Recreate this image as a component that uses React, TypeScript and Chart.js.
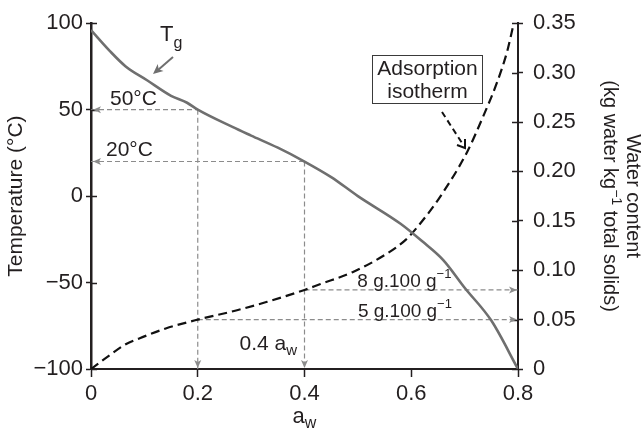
import React, { useEffect, useRef } from 'react';
import { Chart, registerables } from 'chart.js';

Chart.register(...registerables);

// Glass transition temperature (Tg) versus water activity
const tgAw = [0, 0.035, 0.065, 0.105, 0.15, 0.18, 0.2, 0.265, 0.3, 0.35, 0.4, 0.45, 0.5, 0.58, 0.62, 0.66, 0.7, 0.75, 0.8];
const tgTemp = [96, 84, 75, 67, 58, 54, 50, 40, 35, 28, 20, 11, 0, -16, -26, -37, -53, -72, -100];

// Adsorption isotherm: water content (kg water / kg total solids) versus water activity
const isoAw = [0, 0.035, 0.065, 0.1, 0.14, 0.2, 0.27, 0.33, 0.4, 0.43, 0.49, 0.555, 0.59, 0.615, 0.655, 0.705, 0.735, 0.76, 0.78, 0.79];
const isoWater = [0, 0.014, 0.025, 0.033, 0.041, 0.05, 0.059, 0.068, 0.08, 0.086, 0.098, 0.117, 0.131, 0.146, 0.175, 0.22, 0.256, 0.289, 0.322, 0.345];

// Read-off guides: water activity, matching Tg and matching water content
const refAw = [0.2, 0.4];
const refTemp = [50, 20];
const refWater = [0.05, 0.08];

// Axis ticks
const awTicks = [0, 0.2, 0.4, 0.6, 0.8];
const tempTicks = [-100, -50, 0, 50, 100];
const waterTicks = [0, 0.05, 0.1, 0.15, 0.2, 0.25, 0.3, 0.35];

const FONT = '"Liberation Sans", Arial, Helvetica, sans-serif';
const INK = '#231f20';
const TG_GREY = '#6f6f6f';
const GUIDE_GREY = '#8c8c8c';

type Run = { t: string; size: number; dy?: number };

function runsWidth(ctx: CanvasRenderingContext2D, runs: Run[]) {
  let w = 0;
  for (const r of runs) {
    ctx.font = `${r.size}px ${FONT}`;
    w += ctx.measureText(r.t).width;
  }
  return w;
}

function drawRuns(ctx: CanvasRenderingContext2D, runs: Run[], x: number, y: number, align: 'left' | 'center' | 'right' = 'left') {
  const w = runsWidth(ctx, runs);
  let cx = align === 'left' ? x : align === 'center' ? x - w / 2 : x - w;
  ctx.textAlign = 'left';
  ctx.textBaseline = 'alphabetic';
  for (const r of runs) {
    ctx.font = `${r.size}px ${FONT}`;
    ctx.fillText(r.t, cx, y + (r.dy || 0));
    cx += ctx.measureText(r.t).width;
  }
}

function arrowHead(ctx: CanvasRenderingContext2D, x: number, y: number, angle: number, len: number, half: number, color: string) {
  ctx.save();
  ctx.translate(x, y);
  ctx.rotate(angle);
  ctx.fillStyle = color;
  ctx.beginPath();
  ctx.moveTo(0, 0);
  ctx.lineTo(-len, -half);
  ctx.lineTo(-len * 0.75, 0);
  ctx.lineTo(-len, half);
  ctx.closePath();
  ctx.fill();
  ctx.restore();
}

const annotations = {
  id: 'annotations',
  afterDatasetsDraw(chart: any) {
    const ctx: CanvasRenderingContext2D = chart.ctx;
    const xs = chart.scales.x;
    const yT = chart.scales.y;
    const yW = chart.scales.y2;
    const a = chart.chartArea;
    ctx.save();

    // inner halves of the crossing tick marks on both vertical axes
    ctx.strokeStyle = INK;
    ctx.lineWidth = 1.5;
    ctx.beginPath();
    for (const v of tempTicks) {
      const py = Math.round(yT.getPixelForValue(v)) + 0.5;
      ctx.moveTo(a.left, py);
      ctx.lineTo(a.left + 6, py);
    }
    for (const v of waterTicks) {
      const py = Math.round(yW.getPixelForValue(v)) + 0.5;
      ctx.moveTo(a.right, py);
      ctx.lineTo(a.right - 6, py);
    }
    ctx.stroke();

    // arrowheads on the read-off guides
    refAw.forEach((aw, i) => {
      const px = xs.getPixelForValue(aw);
      arrowHead(ctx, a.left + 2, yT.getPixelForValue(refTemp[i]), Math.PI, 8, 3.5, GUIDE_GREY);
      arrowHead(ctx, px, a.bottom - 1, Math.PI / 2, 8, 3.5, GUIDE_GREY);
      arrowHead(ctx, a.right - 1, yW.getPixelForValue(refWater[i]), 0, 8, 3.5, GUIDE_GREY);
    });

    ctx.fillStyle = INK;
    // guide labels
    drawRuns(ctx, [{ t: '50°C', size: 21 }], a.left + 19, yT.getPixelForValue(refTemp[0]) - 5);
    drawRuns(ctx, [{ t: '20°C', size: 21 }], a.left + 15, yT.getPixelForValue(refTemp[1]) - 6);
    drawRuns(ctx, [{ t: '0.4 a', size: 21 }, { t: 'w', size: 15, dy: 5 }], xs.getPixelForValue(refAw[1]) - 65, a.bottom - 19);
    drawRuns(ctx, [{ t: '8 g.100 g', size: 19 }, { t: '\u22121', size: 13, dy: -9 }], xs.getPixelForValue(0.499), yW.getPixelForValue(refWater[1]) - 3);
    drawRuns(ctx, [{ t: '5 g.100 g', size: 19 }, { t: '\u22121', size: 13, dy: -9 }], xs.getPixelForValue(0.5), yW.getPixelForValue(refWater[0]) - 3);

    // Tg label with pointer
    drawRuns(ctx, [{ t: 'T', size: 22 }, { t: 'g', size: 16, dy: 7 }], 160, 41);
    ctx.strokeStyle = TG_GREY;
    ctx.lineWidth = 2;
    ctx.setLineDash([]);
    ctx.beginPath();
    ctx.moveTo(173, 57);
    ctx.lineTo(158, 70);
    ctx.stroke();
    arrowHead(ctx, 153, 74, Math.atan2(17, -20), 10, 4.5, TG_GREY);

    // isotherm callout
    ctx.strokeStyle = '#3a3a3a';
    ctx.lineWidth = 1;
    ctx.strokeRect(372.5, 55.5, 110, 48);
    ctx.fillStyle = INK;
    drawRuns(ctx, [{ t: 'Adsorption', size: 21 }], 427.5, 75, 'center');
    drawRuns(ctx, [{ t: 'isotherm', size: 21 }], 427.5, 98, 'center');
    ctx.strokeStyle = '#111';
    ctx.lineWidth = 2;
    ctx.setLineDash([6, 4]);
    ctx.beginPath();
    ctx.moveTo(442, 112);
    ctx.lineTo(462, 143);
    ctx.stroke();
    ctx.setLineDash([]);
    ctx.beginPath();
    ctx.moveTo(457, 145);
    ctx.lineTo(465, 148);
    ctx.lineTo(465, 139);
    ctx.stroke();

    // axis titles
    ctx.fillStyle = INK;
    const midX = (a.left + a.right) / 2;
    const midY = (a.top + a.bottom) / 2;
    drawRuns(ctx, [{ t: 'a', size: 22 }, { t: 'w', size: 16, dy: 5 }], midX, a.bottom + 54, 'center');

    ctx.save();
    ctx.translate(22, midY);
    ctx.rotate(-Math.PI / 2);
    drawRuns(ctx, [{ t: 'Temperature (°C)', size: 21 }], 0, 0, 'center');
    ctx.restore();

    ctx.save();
    ctx.translate(627, midY);
    ctx.rotate(Math.PI / 2);
    drawRuns(ctx, [{ t: 'Water content', size: 20 }], 0, 0, 'center');
    ctx.restore();

    ctx.save();
    ctx.translate(604, midY);
    ctx.rotate(Math.PI / 2);
    drawRuns(ctx, [{ t: '(kg water kg', size: 20 }, { t: '\u22121', size: 14, dy: -8 }, { t: ' total solids)', size: 20 }], 0, 0, 'center');
    ctx.restore();

    ctx.restore();
  },
};

function guide(xv: number[], yv: number[], axis: string) {
  return {
    data: xv.map((x, i) => ({ x, y: yv[i] })),
    yAxisID: axis,
    borderColor: GUIDE_GREY,
    borderWidth: 1.2,
    borderDash: [5, 3],
    pointRadius: 0,
    fill: false,
    tension: 0,
  };
}

export default function App() {
  const ref = useRef<HTMLCanvasElement>(null);

  useEffect(() => {
    if (!ref.current) return;
    const tickFont = { family: FONT, size: 22 };
    const chart = new Chart(ref.current, {
      type: 'line',
      data: {
        datasets: [
          {
            data: tgAw.map((x, i) => ({ x, y: tgTemp[i] })),
            yAxisID: 'y',
            borderColor: TG_GREY,
            borderWidth: 2.6,
            pointRadius: 0,
            cubicInterpolationMode: 'monotone',
            fill: false,
          },
          {
            data: isoAw.map((x, i) => ({ x, y: isoWater[i] })),
            yAxisID: 'y2',
            borderColor: '#111111',
            borderWidth: 2.2,
            borderDash: [9, 5],
            pointRadius: 0,
            cubicInterpolationMode: 'monotone',
            fill: false,
          },
          guide([0, refAw[0]], [refTemp[0], refTemp[0]], 'y'),
          guide([refAw[0], refAw[0]], [refTemp[0], -100], 'y'),
          guide([0, refAw[1]], [refTemp[1], refTemp[1]], 'y'),
          guide([refAw[1], refAw[1]], [refTemp[1], -100], 'y'),
          guide([refAw[0], 0.8], [refWater[0], refWater[0]], 'y2'),
          guide([refAw[1], 0.8], [refWater[1], refWater[1]], 'y2'),
        ] as any,
      },
      options: {
        animation: false,
        responsive: false,
        devicePixelRatio: 1,
        layout: { padding: { top: 15, left: 0, right: 0, bottom: 0 } },
        plugins: { legend: { display: false }, tooltip: { enabled: false } },
        scales: {
          x: {
            type: 'linear',
            min: 0,
            max: 0.8,
            afterBuildTicks: (s: any) => { s.ticks = awTicks.map((value) => ({ value })); },
            afterFit: (s: any) => { s.height = 64; },
            ticks: {
              font: tickFont,
              color: INK,
              padding: 4,
              callback: (v: any) => (v === 0 ? '0' : String(+Number(v).toFixed(1))),
            },
            grid: { drawOnChartArea: false, drawTicks: true, tickLength: 8, color: INK, tickWidth: 1.5 },
            border: { display: true, color: INK, width: 2 },
          },
          y: {
            type: 'linear',
            position: 'left',
            min: -100,
            max: 100,
            afterBuildTicks: (s: any) => { s.ticks = tempTicks.map((value) => ({ value })); },
            afterFit: (s: any) => { s.width = 91; },
            ticks: {
              font: tickFont,
              color: INK,
              padding: 3,
              callback: (v: any) => (v < 0 ? '\u2212' + Math.abs(v) : String(v)),
            },
            grid: { drawOnChartArea: false, drawTicks: true, tickLength: 5, color: INK, tickWidth: 1.5 },
            border: { display: true, color: INK, width: 2.5 },
          },
          y2: {
            type: 'linear',
            position: 'right',
            min: 0,
            max: 0.35,
            afterBuildTicks: (s: any) => { s.ticks = waterTicks.map((value) => ({ value })); },
            afterFit: (s: any) => { s.width = 126; },
            ticks: {
              font: tickFont,
              color: INK,
              padding: 10,
              callback: (v: any) => (v === 0 ? '0' : Number(v).toFixed(2)),
            },
            grid: { drawOnChartArea: false, drawTicks: true, tickLength: 5, color: INK, tickWidth: 1.5 },
            border: { display: true, color: INK, width: 2 },
          },
        },
      } as any,
      plugins: [annotations],
    });
    return () => chart.destroy();
  }, []);

  return (
    <div style={{ position: 'absolute', left: 0, top: 0, width: 644, height: 433, background: '#fff' }}>
      <canvas ref={ref} width={644} height={433} style={{ display: 'block' }} />
    </div>
  );
}
